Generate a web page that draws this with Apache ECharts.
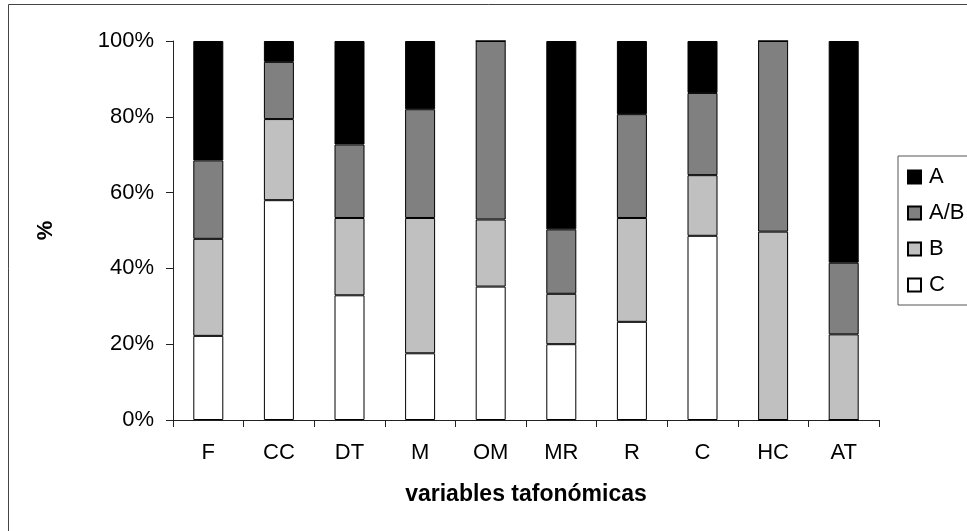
<!DOCTYPE html>
<html>
<head>
<meta charset="utf-8">
<script src="https://cdn.jsdelivr.net/npm/echarts@6/dist/echarts.min.js"></script>
<style>
html,body{margin:0;padding:0;background:#fff;}
#chart{width:967px;height:531px;}
</style>
</head>
<body>
<div id="chart"></div>
<script>
var categories = ['F', 'CC', 'DT', 'M', 'OM', 'MR', 'R', 'C', 'HC', 'AT'];
var valuesC  = [22.2, 58.0, 32.9, 17.6, 35.2, 20.0, 25.9, 48.6, 0, 0];
var valuesB  = [25.6, 21.4, 20.4, 35.7, 17.7, 13.3, 27.4, 16.0, 49.7, 22.6];
var valuesAB = [20.7, 15.1, 19.4, 28.7, 47.1, 17.0, 27.4, 21.7, 50.3, 18.9];
var valuesA  = [31.5, 5.5, 27.3, 18.0, 0, 49.7, 19.3, 13.7, 0, 58.5];
var seriesNames = ['C', 'B', 'A/B', 'A'];
var legendOrder = ['A', 'A/B', 'B', 'C'];
var yTicks = [0, 20, 40, 60, 80, 100];

var FONT = '"Liberation Sans", Arial, sans-serif';
var colors = {'C': '#ffffff', 'B': '#c0c0c0', 'A/B': '#808080', 'A': '#000000'};
var dataBy = {'C': valuesC, 'B': valuesB, 'A/B': valuesAB, 'A': valuesA};

var chart = echarts.init(document.getElementById('chart'));
var series = seriesNames.map(function (n) {
  return {
    name: n,
    type: 'bar',
    stack: 'total',
    barWidth: 30,
    data: dataBy[n],
    itemStyle: {color: colors[n], borderColor: '#000', borderWidth: 1},
    emphasis: {disabled: true}
  };
});

chart.setOption({
  animation: false,
  backgroundColor: '#fff',
  textStyle: {fontFamily: FONT},
  graphic: [{
    type: 'rect',
    shape: {x: 8.5, y: 4.5, width: 1000, height: 600},
    style: {fill: 'none', stroke: '#444', lineWidth: 1},
    z: -10
  }],
  grid: {left: 173, right: 88, top: 41, bottom: 111},
  legend: {
    data: legendOrder,
    orient: 'vertical',
    left: 898,
    top: 156,
    padding: [10, 20, 9, 9],
    itemGap: 14,
    itemWidth: 13,
    itemHeight: 13,
    icon: 'rect',
    borderColor: '#555',
    borderWidth: 1,
    textStyle: {fontFamily: FONT, fontSize: 22, color: '#000', padding: [0, 0, 0, 3]}
  },
  xAxis: {
    type: 'category',
    data: categories,
    name: 'variables tafonómicas',
    nameLocation: 'middle',
    nameGap: 63,
    nameTextStyle: {fontFamily: FONT, fontSize: 23, fontWeight: 'bold', color: '#000'},
    axisLine: {lineStyle: {color: '#222', width: 1}},
    axisTick: {show: true, length: 7, lineStyle: {color: '#222'}},
    axisLabel: {fontFamily: FONT, fontSize: 22, color: '#000', margin: 22}
  },
  yAxis: {
    type: 'value',
    min: yTicks[0],
    max: yTicks[yTicks.length - 1],
    interval: 20,
    name: '%',
    nameLocation: 'middle',
    nameGap: 116,
    nameTextStyle: {fontFamily: FONT, fontSize: 22, fontWeight: 'bold', color: '#000'},
    axisLine: {show: true, lineStyle: {color: '#222', width: 1}},
    axisTick: {show: true, length: 7, lineStyle: {color: '#222'}},
    splitLine: {show: false},
    axisLabel: {fontFamily: FONT, fontSize: 22, color: '#000', margin: 19, formatter: '{value}%'}
  },
  series: series
});
</script>
</body>
</html>
